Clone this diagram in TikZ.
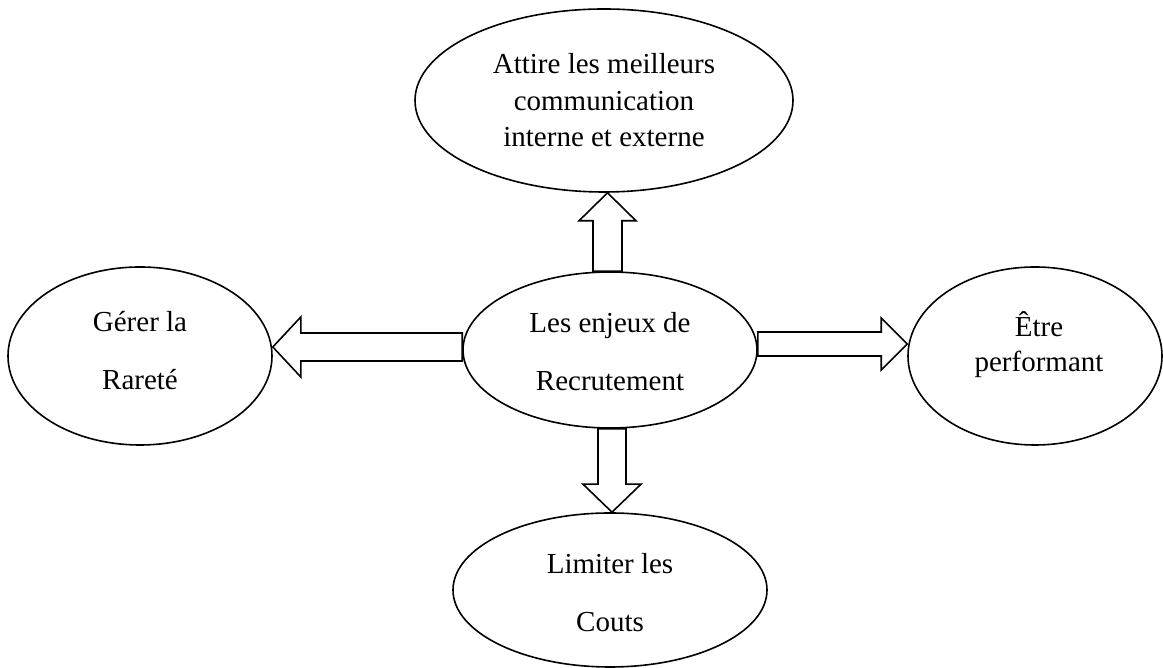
\documentclass[tikz,border=0pt]{standalone}
\usepackage{fontspec}
\setmainfont{Liberation Serif}
\usetikzlibrary{shapes.geometric,calc}

\tikzset{
  bubble/.style={ellipse, draw, line width=1.6pt, inner sep=0pt},
  caption/.style={align=center, font=\fontsize{29}{36.5}\selectfont, inner sep=0pt},
  blockarrow/.style={draw, fill=white, line width=1.6pt, line join=miter},
}

% hollow block arrow from #1 to #2: shaft half-width #3, head half-width #4, head length #5
\newcommand\fatarrow[5]{%
  \path[blockarrow] let \p1=#1, \p2=#2,
      \n1={atan2(\y2-\y1,\x2-\x1)}, \n2={veclen(\x2-\x1,\y2-\y1)} in
    [shift={(\p1)}, rotate=\n1]
    (0,-#3) -- (\n2-#5,-#3) -- (\n2-#5,-#4) -- (\n2,0) -- (\n2-#5,#4)
    -- (\n2-#5,#3) -- (0,#3) -- cycle;}

\begin{document}
\begin{tikzpicture}[x=1pt,y=1pt]
  \useasboundingbox (0,0) rectangle (1163,668);

  % the five ellipses
  \node[bubble, minimum width=378pt, minimum height=183pt] (top) at (604,567.5) {};
  \node[bubble, minimum width=294pt, minimum height=156pt] (c)   at (610,318) {};
  \node[bubble, minimum width=264pt, minimum height=178pt] (l)   at (140,312) {};
  \node[bubble, minimum width=254pt, minimum height=178pt] (r)   at (1035,312) {};
  \node[bubble, minimum width=314pt, minimum height=154pt] (b)   at (610,78) {};

  % their texts
  \node[caption] (topt) at (top.center) {Attire les meilleurs\\communication\\interne et externe};
  \node[caption] (ct) at ([yshift=-1.7pt]c.center) {Les enjeux de\\[21pt]Recrutement};
  \node[caption] (lt) at ([yshift=5pt]l.center) {Gérer la\\[21.5pt]Rareté};
  \node[caption] (rt) at ([xshift=4pt,yshift=11pt]r.center) {Être\\[-1.5pt]performant};
  \node[caption] (bt) at ([yshift=-3pt]b.center) {Limiter les\\[21.5pt]Couts};

  % arrow end points on the ellipse borders
  \coordinate (upA) at ([xshift=-2.5pt]c.north);
  \coordinate (upB) at (upA |- top.south);
  \coordinate (ltA) at ([yshift=3pt]c.west);
  \coordinate (ltB) at (ltA -| l.east);
  \coordinate (rtA) at ([yshift=6pt]c.east);
  \coordinate (rtB) at (rtA -| r.west);
  \coordinate (dnA) at ([xshift=2pt]c.south);
  \coordinate (dnB) at (dnA |- b.north);

  % block arrows
  \fatarrow{(upA)}{(upB)}{14.5}{28.5}{28}
  \fatarrow{(ltA)}{(ltB)}{14}{30}{28}
  \fatarrow{(rtA)}{(rtB)}{12}{26}{26}
  \fatarrow{(dnA)}{(dnB)}{14}{29}{28}
\end{tikzpicture}
\end{document}
